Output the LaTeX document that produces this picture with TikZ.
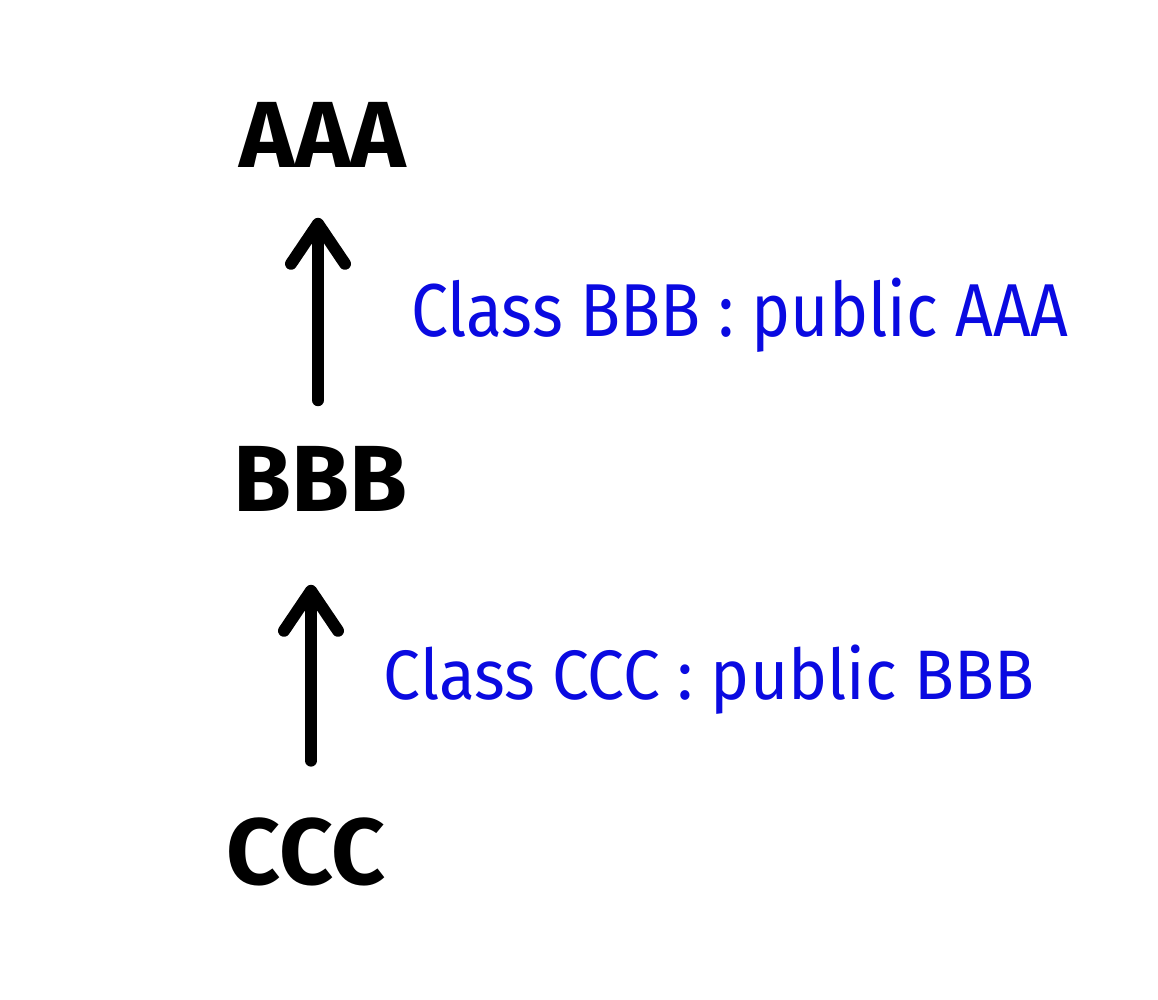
\documentclass[tikz,border=0pt]{standalone}
\usepackage{fontspec}
\setmainfont{Fira Sans}
\usetikzlibrary{arrows.meta}
\definecolor{penblue}{RGB}{10,10,225}
\begin{document}
\begin{tikzpicture}[x=1pt,y=-1pt,
  big/.style={inner sep=0pt,font=\fontsize{94}{94}\selectfont\bfseries},
  lbl/.style={inner sep=0pt,text=penblue},
  arr/.style={line width=12pt,line cap=round,-{Straight Barb[length=40pt,width=54pt,round]}}]
\useasboundingbox (0,0) rectangle (1158,1000);
\fill[white] (0,0) rectangle (1158,1000);
\node[big] (A) at (323,135) {AAA};
\node[big] (B) at (320,479) {BBB};
\node[big] (C) at (306,852) {CCC};
\draw[arr,shorten <=46pt,shorten >=50pt] ([xshift=-2pt]B.north) -- ([xshift=-5pt]A.south);
\draw[arr,shorten <=57pt,shorten >=73pt] ([xshift=5pt]C.north) -- ([xshift=-9pt]B.south);
\node[lbl] (L1) at (740,315) {\scalebox{0.88}[1]{\fontsize{75}{75}\selectfont Class BBB : public AAA}};
\node[lbl] (L2) at (709,680) {\scalebox{0.94}[1]{\fontsize{70}{70}\selectfont Class CCC : public BBB}};
\end{tikzpicture}
\end{document}
